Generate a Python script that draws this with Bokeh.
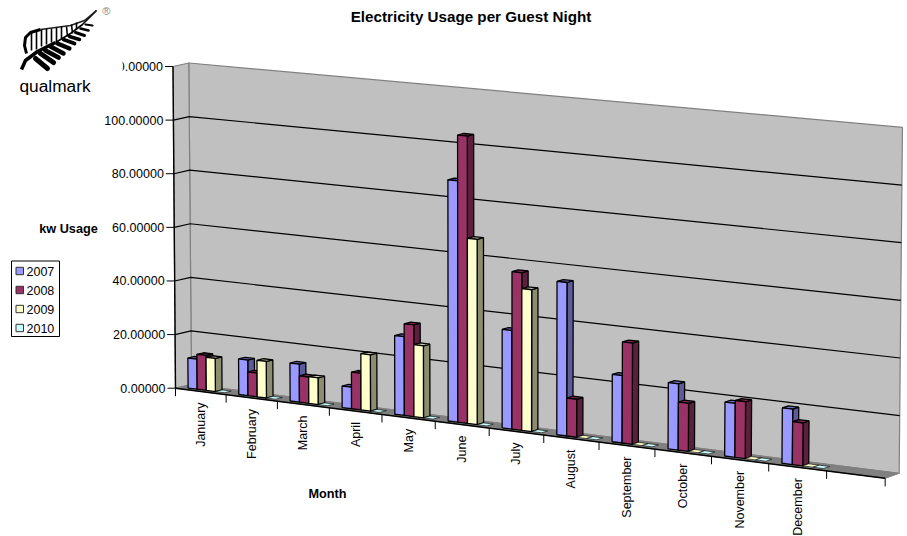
from math import pi
from bokeh.core.properties import value
from bokeh.embed import file_html
from bokeh.models import ColumnDataSource, Range1d
from bokeh.plotting import figure
from bokeh.resources import INLINE

# Chart data
months = ["January", "February", "March", "April", "May", "June", "July",
          "August", "September", "October", "November", "December"]
series_names = ["2007", "2008", "2009", "2010"]
usage_2007 = [11.2, 13.2, 14.0, 7.9, 28.7, 87.5, 35.5, 55.0, 24.0, 23.5, 19.0, 19.4]
usage_2008 = [13.0, 8.8, 9.7, 13.4, 33.4, 104.0, 56.7, 13.6, 36.0, 17.0, 20.0, 15.0]
usage_2009 = [12.3, 13.5, 9.8, 20.6, 26.2, 67.0, 51.0, 0, 0, 0, 0, 0]
usage_2010 = [0, 0, 0, 0, 0, 0, 0, 0, 0, 0, 0, 0]
value_ticks = [0, 20, 40, 60, 80, 100, 120]
value_labels = ["0.00000", "20.00000", "40.00000", "60.00000", "80.00000", "100.00000", "120.00000"]

front_colors = ["#9999FF", "#993366", "#FFFFCC", "#CCFFFF"]
side_colors = ["#5C5C99", "#5C1F3D", "#8C8C70", "#7A9999"]
top_colors = ["#7070C0", "#7A2952", "#CCCCA3", "#8FCCCC"]

FONT = value("Liberation Sans")
VMAX = 120.0
SLOTS = 13

# Corners of the 3D plot box on the page: (left, right) at floor and ceiling
FLOOR_FRONT = ((175.0, 387.7), (886.0, 478.0))
FLOOR_BACK = ((191.0, 384.0), (900.0, 473.0))
ROOF_FRONT = ((172.5, 66.0), (889.3, 132.0))
ROOF_BACK = ((188.3, 62.5), (903.3, 127.0))


def mix(a, b, t):
    return (a[0] + (b[0] - a[0]) * t, a[1] + (b[1] - a[1]) * t)


def along(slot):
    """Perspective position across the category axis, 0 to 1."""
    return (50.3 * slot + 0.33 * slot * slot) / 711.0


def project(slot, val, depth):
    """Map category slot, value and depth (0 front, 1 back) to the page."""
    t = along(slot)
    h = val / VMAX
    floor = mix(mix(FLOOR_FRONT[0], FLOOR_FRONT[1], t), mix(FLOOR_BACK[0], FLOOR_BACK[1], t), depth)
    roof = mix(mix(ROOF_FRONT[0], ROOF_FRONT[1], t), mix(ROOF_BACK[0], ROOF_BACK[1], t), depth)
    return mix(floor, roof, h)


def poly(*corners):
    pts = [project(*c) for c in corners]
    return [p[0] for p in pts], [p[1] for p in pts]


p = figure(width=907, height=536, output_backend="svg", toolbar_location=None,
           x_range=Range1d(0, 907), y_range=Range1d(536, 0), min_border=0,
           x_axis_type=None, y_axis_type=None, outline_line_color=None,
           background_fill_color="white", border_fill_color="white")
p.grid.visible = False

# Walls and floor
wx, wy = poly((0, 0, 1), (SLOTS, 0, 1), (SLOTS, VMAX, 1), (0, VMAX, 1))
p.patch(wx, wy, fill_color="#C0C0C0", line_color="#808080", line_width=1.2)
lx, ly = poly((0, 0, 0), (0, 0, 1), (0, VMAX, 1), (0, VMAX, 0))
p.patch(lx, ly, fill_color="#C0C0C0", line_color="#808080", line_width=1.2)
fx, fy = poly((0, 0, 0), (SLOTS, 0, 0), (SLOTS, 0, 1), (0, 0, 1))
p.patch(fx, fy, fill_color="#808080", line_color="#808080", line_width=1)

# Gridlines run along the side wall and across the back wall
gx, gy = [], []
for v in value_ticks[1:-1]:
    a, b, c = project(0, v, 0), project(0, v, 1), project(SLOTS, v, 1)
    gx.append([a[0], b[0], c[0]])
    gy.append([a[1], b[1], c[1]])
p.multi_line(gx, gy, line_color="black", line_width=1.2)

# Axes
a0, a1 = project(0, 0, 0), project(0, VMAX, 0)
p.line([a0[0], a1[0]], [a0[1], a1[1]], line_color="black", line_width=1.4)
a2 = project(SLOTS, 0, 0)
p.line([a0[0], a2[0]], [a0[1], a2[1]], line_color="black", line_width=1.5)

tick_xs, tick_ys = [], []
for v in value_ticks:
    q = project(0, v, 0)
    tick_xs.append([q[0] - 8, q[0]])
    tick_ys.append([q[1], q[1]])
for s in range(SLOTS + 1):
    q = project(s, 0, 0)
    tick_xs.append([q[0], q[0]])
    tick_ys.append([q[1], q[1] + 8])
p.multi_line(tick_xs, tick_ys, line_color="black", line_width=1)

# Value labels; the topmost one runs under a mask at the chart's left edge
label_pts = [project(0, v, 0) for v in value_ticks]
p.text([q[0] - 10 for q in label_pts], [q[1] for q in label_pts], text=value_labels,
       text_font=FONT, text_font_size="12.5px", text_align="right",
       text_baseline="middle", text_color="black")
p.quad(left=[96], right=[122], top=[56], bottom=[76], fill_color="white", line_color=None)

# Month labels
centers = [project(i + 0.5, 0, 0) for i in range(len(months))]
p.text([q[0] for q in centers], [q[1] + 11 for q in centers], text=months,
       text_font=FONT, text_font_size="12.5px", text_align="right",
       text_baseline="middle", angle=pi / 2, text_color="black")

# Bars: a front, side and top face per month and series, left to right.
# A zero value leaves only a thin-outlined flat top on the floor.
series = [usage_2007, usage_2008, usage_2009, usage_2010]
BAR_START, BAR_W, D0, D1 = 0.155, 0.18, 0.3, 0.72
xs, ys, fills, widths = [], [], [], []
for m in range(len(months)):
    for k, vals in enumerate(series):
        v = vals[m]
        s0 = m + BAR_START + BAR_W * k
        s1 = s0 + BAR_W
        top_face = (((s0, v, D0), (s1, v, D0), (s1, v, D1), (s0, v, D1)), top_colors[k])
        if v > 0:
            faces = [
                (((s1, 0, D0), (s1, 0, D1), (s1, v, D1), (s1, v, D0)), side_colors[k]),
                top_face,
                (((s0, 0, D0), (s1, 0, D0), (s1, v, D0), (s0, v, D0)), front_colors[k]),
            ]
        else:
            faces = [(top_face[0], front_colors[k])]
        for corners, color in faces:
            x, y = poly(*corners)
            xs.append(x)
            ys.append(y)
            fills.append(color)
            widths.append(1.3 if v > 0 else 0.6)
p.patches("xs", "ys", fill_color="fills", line_color="black", line_width="widths",
          source=ColumnDataSource(dict(xs=xs, ys=ys, fills=fills, widths=widths)))

# Titles
p.text([470.5], [16], text=["Electricity Usage per Guest Night"], text_font=FONT,
       text_font_style="bold", text_font_size="15.2px", text_align="center",
       text_baseline="middle", text_color="black")
p.text([68], [228], text=["kw Usage"], text_font=FONT, text_font_style="bold",
       text_font_size="12.7px", text_align="center", text_baseline="middle", text_color="black")
p.text([327], [493.5], text=["Month"], text_font=FONT, text_font_style="bold",
       text_font_size="12.7px", text_align="center", text_baseline="middle", text_color="black")

# Legend
p.quad(left=[11], right=[59], top=[260.5], bottom=[336], fill_color="white", line_color="black", line_width=1)
legend_y = [270.5, 289.5, 308.5, 327.5]
p.quad(left=[15.5] * 4, right=[23] * 4, top=[y - 3.7 for y in legend_y], bottom=[y + 3.7 for y in legend_y],
       fill_color=front_colors, line_color="#333333", line_width=1)
p.text([26] * 4, legend_y, text=series_names, text_font=FONT, text_font_size="12.5px",
       text_align="left", text_baseline="middle", text_color="black")

# Fern emblem
stem_x = [21, 25, 37, 55, 70, 82, 90, 96]
stem_y = [69, 60, 51, 42, 33, 24, 16, 10]
p.line(stem_x[:4], stem_y[:4], line_color="black", line_width=3.5)
p.line(stem_x[3:], stem_y[3:], line_color="black", line_width=1.6)
rim_x = [96, 84, 70, 55, 40, 30, 25, 24, 26]
rim_y = [10, 20, 25, 27, 29, 32, 37, 45, 53]
p.line(rim_x[:5], rim_y[:5], line_color="#222222", line_width=1.6)
p.line(rim_x[4:], rim_y[4:], line_color="black", line_width=3)
rib_x = [[31, 31], [36, 36], [41, 41], [46, 46], [51, 51], [56, 56], [61, 61], [66, 67], [71, 72], [76, 76]]
rib_y = [[32, 50], [30, 49], [29, 46], [28, 44], [28, 42], [27, 41], [26, 38], [26, 36], [24, 33], [22, 29]]
p.multi_line(rib_x, rib_y, line_color="black", line_width=1.6)
leaf_x = [[35, 47], [40, 53], [45, 58], [50, 63], [57, 69], [63, 74], [69, 79], [75, 84], [80, 88], [85, 92]]
leaf_y = [[58, 68], [53, 62], [50, 57], [46, 53], [43, 48], [39, 43], [36, 39], [32, 35], [28, 30], [24, 25]]
leaf_w = [5, 5, 4.8, 4.5, 4.2, 3.8, 3.4, 3, 2.6, 2.2]
p.multi_line("xs", "ys", line_width="w", line_color="black", line_cap="round",
             source=ColumnDataSource(dict(xs=leaf_x, ys=leaf_y, w=leaf_w)))
p.text([54.5], [85], text=["qualmark"], text_font=FONT, text_font_size="17.3px",
       text_align="center", text_baseline="middle", text_color="black")
p.text([105.7], [10.5], text=["®"], text_font=FONT, text_font_size="11px",
       text_align="center", text_baseline="middle", text_color="#888888")

open("out.html", "w").write(file_html(p, INLINE))
